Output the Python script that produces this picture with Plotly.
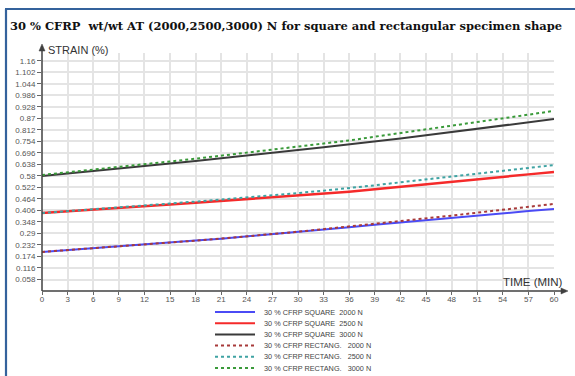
import plotly.graph_objects as go

# Time axis (minutes)
time_min = [0, 3, 6, 9, 12, 15, 18, 21, 24, 27, 30, 33, 36, 39, 42, 45, 48, 51, 54, 57, 60]

# Strain (%) for each specimen / load
square_2000 = [0.197, 0.206, 0.215, 0.224, 0.234, 0.244, 0.254, 0.264, 0.275, 0.286, 0.298,
               0.310, 0.322, 0.334, 0.346, 0.358, 0.370, 0.381, 0.392, 0.403, 0.413]
square_2500 = [0.393, 0.401, 0.409, 0.418, 0.427, 0.436, 0.445, 0.454, 0.463, 0.472, 0.481,
               0.491, 0.501, 0.513, 0.526, 0.538, 0.551, 0.563, 0.575, 0.588, 0.600]
square_3000 = [0.580, 0.592, 0.604, 0.617, 0.630, 0.643, 0.656, 0.669, 0.683, 0.697, 0.711,
               0.725, 0.739, 0.753, 0.769, 0.785, 0.801, 0.818, 0.834, 0.851, 0.867]
rect_2000 = [0.197, 0.206, 0.215, 0.224, 0.234, 0.244, 0.254, 0.264, 0.275, 0.287, 0.299,
             0.312, 0.325, 0.338, 0.352, 0.366, 0.380, 0.395, 0.409, 0.424, 0.439]
rect_2500 = [0.393, 0.402, 0.411, 0.421, 0.431, 0.441, 0.451, 0.461, 0.472, 0.483, 0.494,
             0.506, 0.518, 0.533, 0.548, 0.562, 0.576, 0.591, 0.605, 0.620, 0.635]
rect_3000 = [0.585, 0.598, 0.611, 0.625, 0.639, 0.653, 0.667, 0.682, 0.697, 0.712, 0.727,
             0.743, 0.759, 0.778, 0.796, 0.814, 0.833, 0.852, 0.870, 0.889, 0.908]

series_names = [
    "30 % CFRP SQUARE  2000 N",
    "30 % CFRP SQUARE  2500 N",
    "30 % CFRP SQUARE  3000 N",
    "30 % CFRP RECTANG.   2000 N",
    "30 % CFRP RECTANG.   2500 N",
    "30 % CFRP RECTANG.   3000 N",
]
series_values = [square_2000, square_2500, square_3000, rect_2000, rect_2500, rect_3000]
series_colors = ["#4b4bf5", "#f52a2a", "#3a3a3a", "#a83a3a", "#3fa3a3", "#3a9a3a"]
series_dash = ["solid", "solid", "solid", "dot", "dot", "dot"]
series_width = [2, 2.5, 2, 2, 2, 2]

# y tick labels (step 0.058)
y_ticks = [0.058, 0.116, 0.174, 0.232, 0.29, 0.348, 0.406, 0.464, 0.522, 0.58, 0.638,
           0.696, 0.754, 0.812, 0.87, 0.928, 0.986, 1.044, 1.102, 1.16]
y_tick_text = ["0.058", "0.116", "0.174", "0.232", "0.29", "0.348", "0.406", "0.464", "0.522",
               "0.58", "0.638", "0.696", "0.754", "0.812", "0.87", "0.928", "0.986", "1.044",
               "1.102", "1.16"]
x_ticks = time_min

W, H = 575, 376
ML, MR, MT, MB = 42, 21, 53, 85
PW, PH = W - ML - MR, H - MT - MB


def px(x):
    return (x - ML) / PW


def py(y):
    return (H - MB - y) / PH


fig = go.Figure()
for name, vals, col, dash, wd in zip(series_names, series_values, series_colors, series_dash, series_width):
    fig.add_trace(go.Scatter(x=time_min, y=vals, mode="lines", name=name,
                             line=dict(color=col, dash=dash, width=wd), showlegend=False))

shapes = []
annotations = []

# axis arrows
axis_col = "#404040"
shapes.append(dict(type="line", xref="paper", yref="paper", x0=0, y0=0, x1=px(562), y1=0,
                   line=dict(color=axis_col, width=1.5)))
shapes.append(dict(type="path", xref="paper", yref="paper",
                   path=f"M {px(561)} {py(288)} L {px(568)} {py(291)} L {px(561)} {py(294)} Z",
                   fillcolor=axis_col, line=dict(color=axis_col, width=0.5)))
shapes.append(dict(type="line", xref="paper", yref="paper", x0=0, y0=0, x1=0, y1=py(50),
                   line=dict(color=axis_col, width=1.5)))
shapes.append(dict(type="path", xref="paper", yref="paper",
                   path=f"M {px(39)} {py(51)} L {px(42)} {py(44)} L {px(45)} {py(51)} Z",
                   fillcolor=axis_col, line=dict(color=axis_col, width=0.5)))

# frame lines
frame_col = "#34629c"
shapes.append(dict(type="line", xref="paper", yref="paper", x0=px(6), y0=py(9), x1=px(6), y1=py(377),
                   line=dict(color=frame_col, width=2.2)))
shapes.append(dict(type="line", xref="paper", yref="paper", x0=px(5), y0=py(9), x1=px(576), y1=py(9),
                   line=dict(color=frame_col, width=2.2)))

# axis titles
annotations.append(dict(text="STRAIN (%)", xref="paper", yref="paper", x=px(46), y=py(50),
                        xanchor="left", yanchor="middle", showarrow=False,
                        font=dict(family="Liberation Sans", size=11, color="#333333")))
annotations.append(dict(text="TIME (MIN)", xref="paper", yref="paper", x=px(565), y=py(282),
                        xanchor="right", yanchor="middle", showarrow=False,
                        font=dict(family="Liberation Sans", size=11.5, color="#333333")))

# title
annotations.append(dict(text="<b>30 % CFRP  wt/wt AT (2000,2500,3000) N for square and rectangular specimen shape</b>",
                        xref="paper", yref="paper", x=px(8), y=py(26), xanchor="left", yanchor="middle",
                        showarrow=False, font=dict(family="DejaVu Serif", size=11.5, color="#111111")))

# legend drawn below the plot
row0, row_step = 312, 11.2
for i, (name, col, dash) in enumerate(zip(series_names, series_colors, series_dash)):
    yy = py(row0 + i * row_step)
    shapes.append(dict(type="line", xref="paper", yref="paper", x0=px(215), x1=px(255), y0=yy, y1=yy,
                       line=dict(color=col, dash=dash, width=2)))
    annotations.append(dict(text=name, xref="paper", yref="paper", x=px(262), y=yy,
                            xanchor="left", yanchor="middle", showarrow=False,
                            font=dict(family="Liberation Sans", size=7.3, color="#444444")))

fig.update_layout(
    width=W, height=H,
    margin=dict(l=ML, r=MR, t=MT, b=MB),
    paper_bgcolor="white", plot_bgcolor="white",
    shapes=shapes, annotations=annotations,
    xaxis=dict(range=[0, 60], tickvals=x_ticks, ticks="outside", ticklen=3, tickcolor="#666666",
               ticklabelstandoff=-3,
               showgrid=True, gridcolor="#e4e4e4", gridwidth=2, zeroline=False, showline=False,
               tickfont=dict(family="Liberation Sans", size=8, color="#555555")),
    yaxis=dict(range=[0, 1.2], tickvals=y_ticks, ticktext=y_tick_text, ticks="outside", ticklen=4,
               tickcolor="#666666", showgrid=True, gridcolor="#e4e4e4", gridwidth=2, zeroline=False,
               showline=False, tickfont=dict(family="Liberation Sans", size=8, color="#555555")),
)

fig.write_html("out.html")
